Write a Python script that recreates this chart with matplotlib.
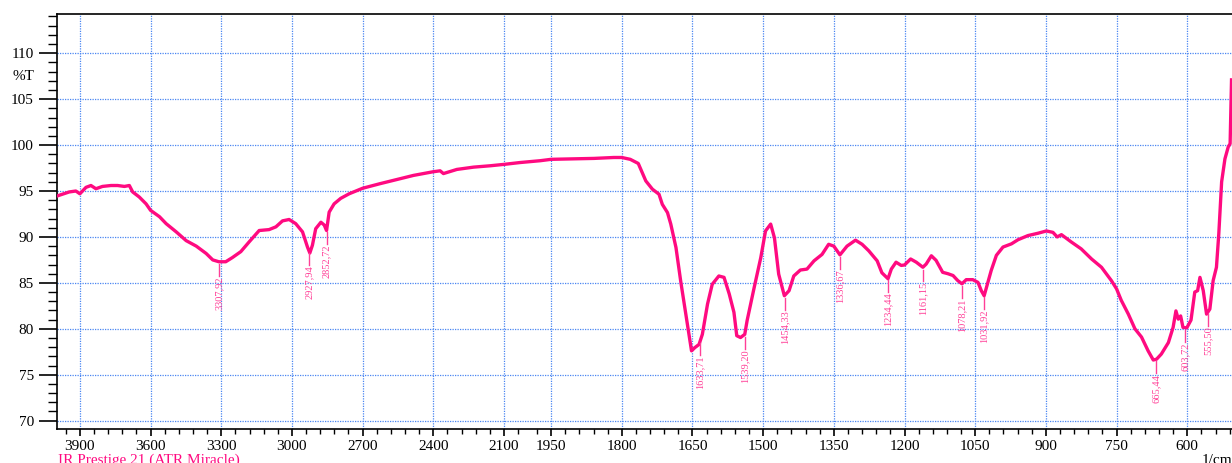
import numpy as np
import matplotlib
matplotlib.use("Agg")
import matplotlib.pyplot as plt
from matplotlib.ticker import FixedLocator, MultipleLocator, NullFormatter

# 스펙트럼 데이터 (파수 cm-1, 투과율 %T) - 그림에서 읽은 값
wavenumber = [3992, 3945, 3917, 3900, 3874, 3853, 3832, 3804, 3768, 3740,
              3711, 3690, 3676, 3648, 3619, 3600, 3562, 3534, 3491, 3449,
              3406, 3364, 3336, 3310, 3281, 3253, 3217, 3182, 3139, 3097,
              3068, 3040, 3012, 2984, 2955, 2934, 2924, 2913, 2899, 2877,
              2863, 2853, 2842, 2821, 2793, 2757,
              2700, 2626, 2555, 2484, 2400, 2371, 2357, 2300, 2229, 2158,
              2100, 2032, 1973, 1950, 1902, 1859, 1817, 1800, 1782, 1765,
              1749, 1735, 1721, 1714, 1703, 1696, 1685, 1675, 1664, 1657,
              1652, 1645, 1636, 1629, 1618, 1608, 1594, 1583, 1572, 1562,
              1556, 1548, 1539, 1534, 1519, 1505, 1495, 1484, 1476, 1467,
              1455, 1445, 1435, 1421, 1407, 1392, 1375, 1361, 1350, 1337,
              1322, 1304, 1290, 1276, 1258, 1248,
              1235, 1228, 1218, 1207, 1200, 1187, 1175, 1161, 1154, 1143,
              1133, 1119, 1108, 1097, 1087, 1078, 1069, 1055, 1044, 1037,
              1031, 1024, 1016, 1005, 991, 973, 959, 938, 917, 899,
              885, 876, 867, 846, 825, 803, 782, 761, 750, 740,
              725, 711, 697, 683, 672, 665, 655, 640, 630, 624,
              619, 614, 609, 601, 592, 584, 578, 573, 566, 559,
              552, 545, 538, 533, 527, 520, 513, 509, 506]
transmittance = [94.5, 94.9, 95.0, 94.7, 95.4, 95.6, 95.25, 95.5, 95.6, 95.6,
                 95.5, 95.6, 94.9, 94.35, 93.6, 92.9, 92.2, 91.45, 90.55, 89.6,
                 89.0, 88.2, 87.5, 87.3, 87.3, 87.75, 88.4, 89.45, 90.7, 90.8,
                 91.1, 91.75, 91.9, 91.45, 90.55, 88.9, 88.25, 89.1, 90.9, 91.6,
                 91.3, 90.7, 92.7, 93.6, 94.2, 94.7,
                 95.3, 95.8, 96.25, 96.7, 97.1, 97.2, 96.9, 97.35, 97.6, 97.75,
                 97.9, 98.1, 98.3, 98.45, 98.5, 98.55, 98.65, 98.65, 98.45, 98.0,
                 96.1, 95.2, 94.65, 93.55, 92.65, 91.4, 88.85, 85.2, 81.6, 79.25,
                 77.6, 77.95, 78.3, 79.4, 82.7, 84.85, 85.75, 85.6, 83.8, 81.8,
                 79.25, 79.05, 79.4, 80.9, 84.5, 87.75, 90.65, 91.4, 89.9, 85.95,
                 83.6, 84.15, 85.75, 86.4, 86.5, 87.4, 88.1, 89.2, 89.0, 88.05,
                 89.0, 89.65, 89.2, 88.5, 87.4, 86.1,
                 85.45, 86.5, 87.25, 86.9, 86.95, 87.6, 87.25, 86.7, 87.05, 87.95,
                 87.45, 86.15, 86.0, 85.8, 85.25, 84.9, 85.35, 85.35, 85.05, 84.15,
                 83.6, 84.9, 86.35, 88.0, 88.9, 89.25, 89.7, 90.15, 90.4, 90.65,
                 90.5, 90.0, 90.25, 89.45, 88.7, 87.6, 86.7, 85.25, 84.35, 83.1,
                 81.6, 80.0, 79.1, 77.6, 76.6, 76.7, 77.25, 78.5, 80.15, 81.95,
                 81.05, 81.4, 80.15, 80.1, 80.95, 84.0, 84.15, 85.6, 84.15, 81.6,
                 82.15, 85.25, 86.7, 90.35, 96.0, 98.5, 99.8, 100.15, 107.1]

# 피크 표시
peaks = [3307.92, 2927.94, 2852.72, 1633.71, 1539.20, 1454.33, 1336.67,
         1234.44, 1161.15, 1078.21, 1031.92, 665.44, 603.72, 555.50]

x_major = [3900, 3600, 3300, 3000, 2700, 2400, 2100, 1950, 1800, 1650,
           1500, 1350, 1200, 1050, 900, 750, 600]

wn = np.array(wavenumber, float)
tr = np.array(transmittance, float)

line_color = "#ff0a80"
label_color = "#ff3f97"
grid_color = "#4a86f2"


# 2000 cm-1 아래는 두 배 스케일
def fwd(x):
    x = np.asarray(x, float)
    return np.where(x >= 2000, x, 2 * x - 2000)


def inv(u):
    u = np.asarray(u, float)
    return np.where(u >= 2000, u, (u + 2000) / 2)


plt.rcParams['font.family'] = ['Liberation Serif', 'DejaVu Serif']

fig = plt.figure(figsize=(12.32, 4.63), dpi=100)
ax = fig.add_axes([0.04667, 0.07278, 0.95333, 0.89697])
ax.set_xscale('function', functions=(fwd, inv))
ax.plot(wn, tr, color=line_color, lw=2.4, solid_joinstyle='round', zorder=3)

ax.set_xlim(3995, 505)
ax.set_ylim(69.06, 114.27)

# 피크 라벨
for p in peaks:
    tp = np.interp(p, wn[::-1], tr[::-1])
    ax.plot([p, p], [tp - 0.25, tp - 1.55], color=label_color, lw=1.0, zorder=3)
    ax.text(p, tp - 1.6, f"{p:.2f}".replace('.', ','), rotation=90,
            ha='center', va='top', fontsize=7.5, color=label_color)

# 눈금
ax.xaxis.set_major_locator(FixedLocator(x_major))
x_minor = [m for m in range(3960, 2000, -60) if m not in x_major]
x_minor += [m for m in range(1980, 505, -30) if m not in x_major]
ax.xaxis.set_minor_locator(FixedLocator(x_minor))
ax.xaxis.set_minor_formatter(NullFormatter())
ax.set_xticklabels([str(v) for v in x_major])
ax.yaxis.set_major_locator(FixedLocator(range(70, 115, 5)))
ax.yaxis.set_minor_locator(MultipleLocator(1))

ax.tick_params(axis='y', which='major', length=13, width=1.2, pad=4, labelsize=11)
ax.tick_params(axis='y', which='minor', length=6.5, width=1.0)
ax.tick_params(axis='x', which='major', length=5, width=1.2, pad=3, labelsize=11)
ax.tick_params(axis='x', which='minor', length=3.5, width=1.0)

ax.grid(True, which='major', color=grid_color, ls=(0, (1, 1)), lw=0.9)
for s in ['left', 'bottom', 'top']:
    ax.spines[s].set_linewidth(1.2)
ax.spines['right'].set_visible(False)

fig.text(34 / 1232, 1 - 77 / 463, "%T", ha='right', va='center', fontsize=11)
fig.text(58 / 1232, 1 - 454 / 463, "IR Prestige 21 (ATR Miracle)", ha='left',
         va='top', fontsize=11, color=line_color)
fig.text(1232 / 1232, 1 - 454 / 463, "1/cm", ha='right', va='top', fontsize=11)

fig.savefig("out.png", dpi=100)
